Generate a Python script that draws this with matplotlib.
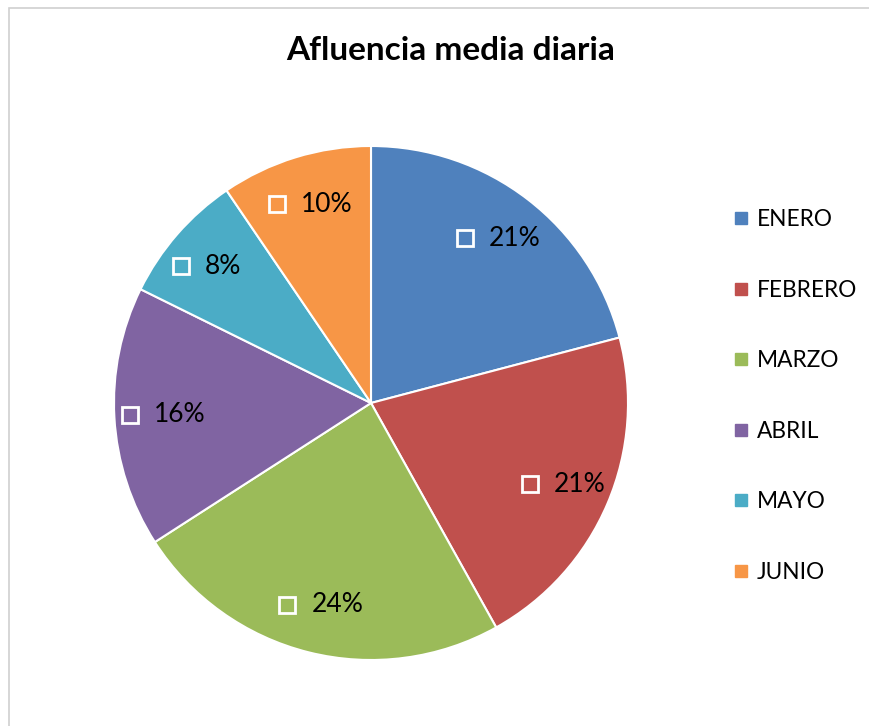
import numpy as np
import matplotlib
matplotlib.use("Agg")
import matplotlib.pyplot as plt
from matplotlib.lines import Line2D
from matplotlib.patches import Rectangle
from matplotlib.transforms import ScaledTranslation

plt.rcParams['font.family'] = ['Lato', 'DejaVu Sans']

# data (percent of total)
months = ['ENERO', 'FEBRERO', 'MARZO', 'ABRIL', 'MAYO', 'JUNIO']
shares = [20.9, 21.0, 24.0, 16.4, 8.2, 9.5]
colors = ['#4F81BD', '#C0504D', '#9BBB59', '#8064A2', '#4BACC6', '#F79646']
title = 'Afluencia media diaria'

W, H = 869, 726
fig = plt.figure(figsize=(W / 100, H / 100), dpi=100)

# thin grey chart frame (cut off on right/bottom like the original)
fig.patches.append(Rectangle((9 / W, -0.1), 1.2, 1 - 8 / H + 0.1, transform=fig.transFigure,
                             fill=False, edgecolor='#d0d0d0', linewidth=1.2))

# pie centred at (371, 403) px with radius 257 px
r = 257
ax = fig.add_axes([(371 - r) / W, (H - 403 - r) / H, 2 * r / W, 2 * r / H])
wedges, _ = ax.pie(shares, colors=colors, startangle=90, counterclock=False,
                   wedgeprops=dict(edgecolor='white', linewidth=1.5))
ax.set_xlim(-1, 1)
ax.set_ylim(-1, 1)
ax.set_aspect('equal')
ax.axis('off')

# data labels: white square key + percent
total = sum(shares)
shift = ScaledTranslation(-33 / 100, 0, fig.dpi_scale_trans)
for w, v in zip(wedges, shares):
    mid = np.deg2rad((w.theta1 + w.theta2) / 2)
    x, y = 0.81 * np.cos(mid), 0.81 * np.sin(mid)
    ax.plot([x], [y], marker='s', markersize=12, markerfacecolor='none',
            markeredgecolor='white', markeredgewidth=2.0,
            transform=ax.transData + shift)
    ax.annotate(f'{v / total * 100:.0f}%', xy=(x, y), xytext=(-9, 0), textcoords='offset pixels',
                ha='left', va='center', fontsize=19, color='black')

fig.text(451 / W, 1 - 51 / H, title, ha='center', va='center', fontsize=24, fontweight='bold')

handles = [Line2D([], [], linestyle='none', marker='s', markersize=8, color=c) for c in colors]
fig.legend(handles, months, loc='center left', bbox_to_anchor=(733 / W, 1 - 396 / H),
           frameon=False, fontsize=16.3, labelspacing=2.19, handlelength=0.75, handletextpad=0.3,
           borderpad=0, borderaxespad=0)

fig.savefig('out.png', dpi=100)
